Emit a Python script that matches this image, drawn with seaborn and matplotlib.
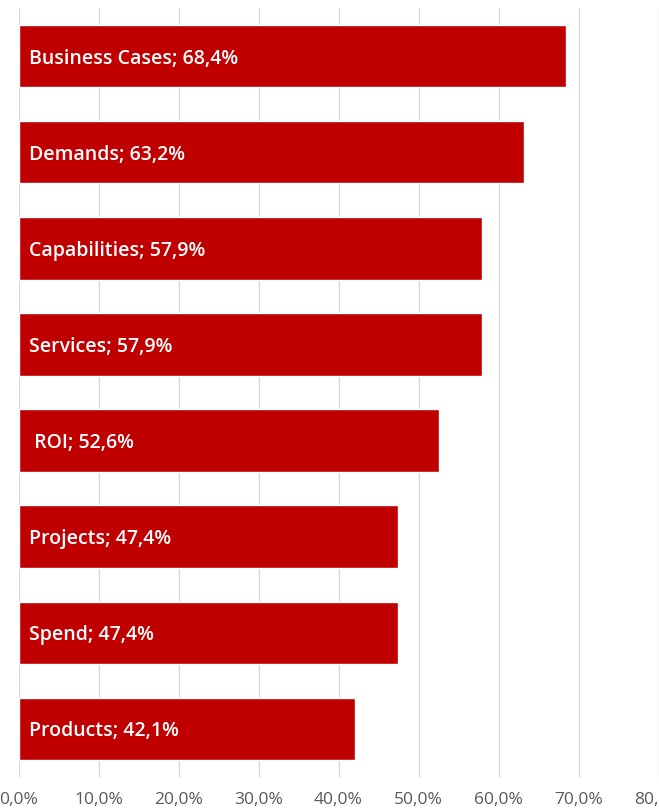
import matplotlib
matplotlib.use("Agg")
import matplotlib.pyplot as plt
import seaborn as sns
import pandas as pd
from matplotlib.ticker import FuncFormatter, MultipleLocator

categories = ["Business Cases", "Demands", "Capabilities", "Services", "ROI",
              "Projects", "Spend", "Products"]
values = [0.684, 0.632, 0.579, 0.579, 0.526, 0.474, 0.474, 0.421]
label_prefix = ["", "", "", "", " ", "", "", ""]

df = pd.DataFrame({"cat": categories, "val": values})

sns.set_theme(style="white")
plt.rcParams["font.family"] = ["Open Sans", "DejaVu Sans"]

W, H = 659, 811
fig = plt.figure(figsize=(W / 100, H / 100), dpi=100)
left, right, top, bottom = 18.5, 658.5, 8, 777
ax = fig.add_axes([left / W, (H - bottom) / H, (right - left) / W, (bottom - top) / H])

sns.barplot(data=df, x="val", y="cat", orient="h", color="#C00000",
            saturation=1, width=0.65, ax=ax, zorder=3)

ax.set_xlim(0, 0.8)
ax.set_ylim(len(categories) - 0.5, -0.5)
ax.xaxis.set_major_locator(MultipleLocator(0.1))
ax.xaxis.set_major_formatter(FuncFormatter(lambda v, p: f"{v*100:.1f}%".replace(".", ",")))
ax.tick_params(axis="x", length=0, pad=11, labelsize=12.5, labelcolor="#595959")
ax.set_yticks([])
ax.set_xlabel("")
ax.set_ylabel("")
for s in ax.spines.values():
    s.set_visible(False)
ax.grid(axis="x", color="#d9d9d9", linewidth=1, zorder=0)
ax.set_axisbelow(True)

for i, (c, v) in enumerate(zip(categories, values)):
    txt = f"{label_prefix[i]}{c}; {v*100:.1f}%".replace(".", ",")
    ax.text(0.0135, i, txt, color="white", fontsize=14, fontweight="semibold",
            va="center_baseline", ha="left", zorder=5)

fig.savefig("out.png", dpi=100)
